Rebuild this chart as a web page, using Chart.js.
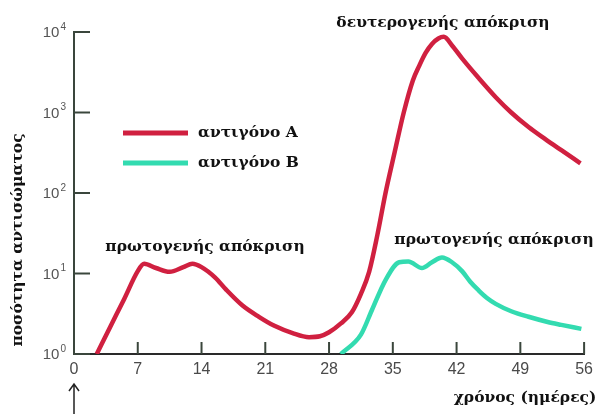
<!DOCTYPE html>
<html>
<head>
<meta charset="utf-8">
<script src="https://cdn.jsdelivr.net/npm/chart.js@4.4.1/dist/chart.umd.min.js"></script>
<style>
  body { margin: 0; background: #fff; }
  canvas { display: block; }
</style>
</head>
<body>
<canvas id="immune" width="599" height="414"></canvas>
<script>
// days on the x axis, tick labels
var xTicks = [0, 7, 14, 21, 28, 35, 42, 49, 56];
var yTicks = [1, 10, 100, 1000, 10000];
var yTickExp = ['0', '1', '2', '3', '4'];

// antigen A (red)
var daysA = [2.5, 4, 5.5, 7, 7.7, 9, 10.5, 12, 13, 14, 15.5, 16.7, 18.5, 20.3, 22, 24, 25.8, 27, 28,
             29.3, 30.5, 31.5, 32.4, 33.3, 34.2, 35.2, 36.2, 37.2, 37.9, 38.6, 39.3, 40, 40.6, 41.5, 42.6,
             44.4, 46.3, 48, 49.9, 51.7, 53.5, 55.6];
var valuesA = [1, 2.2, 4.8, 10.7, 13.2, 11.7, 10.5, 12, 13.2, 12, 8.9, 6.3, 4, 2.9, 2.24, 1.82, 1.62, 1.66, 1.86,
               2.4, 3.3, 5.6, 10.5, 30, 100, 320, 1000, 2500, 3800, 5500, 7100, 8300, 8700, 6800, 4700,
               2700, 1550, 1000, 660, 470, 340, 234];

// antigen B (teal)
var daysB = [29.3, 31.5, 32.7, 34.2, 35.7, 36.7, 38.2, 39.3, 40.4, 41.5, 42.6, 43.5, 44.4, 45.3, 46.3,
             48, 49.9, 52, 53.5, 55.7];
var valuesB = [1, 1.74, 3.5, 8.3, 13.8, 14.1, 11.7, 13.8, 15.8, 13.8, 10.7, 7.9, 6.2, 5, 4.2,
               3.4, 2.9, 2.5, 2.3, 2.05];

var seriesNames = ['αντιγόνο A', 'αντιγόνο B'];
var seriesColors = ['#d02040', '#33dbb0'];

var axisColor = '#3a463c';
var serif = '"DejaVu Serif", "Liberation Serif", serif';
var sans = '"Liberation Sans", "DejaVu Sans", sans-serif';

function toPoints(xs, ys) {
  return xs.map(function (x, i) { return { x: x, y: ys[i] }; });
}

// inward ticks, y labels with exponents, legend, notes, arrow
var extras = {
  id: 'extras',
  afterDraw: function (chart) {
    var ctx = chart.ctx;
    var xs = chart.scales.x, ys = chart.scales.y;
    ctx.save();
    ctx.strokeStyle = axisColor;
    ctx.lineWidth = 2;
    yTicks.forEach(function (v, i) {
      var py = ys.getPixelForValue(v);
      ctx.beginPath();
      ctx.moveTo(xs.left, py);
      ctx.lineTo(xs.left + 16, py);
      ctx.stroke();
      // label 10^n
      ctx.fillStyle = '#555';
      ctx.textBaseline = 'middle';
      ctx.textAlign = 'right';
      ctx.font = '10px ' + sans;
      ctx.fillText(yTickExp[i], xs.left - 8, py - 5);
      var ew = ctx.measureText(yTickExp[i]).width;
      ctx.font = '15px ' + sans;
      ctx.fillText('10', xs.left - 9 - ew, py + 1);
    });
    xTicks.forEach(function (v) {
      if (v === 0) return;
      var px = xs.getPixelForValue(v);
      ctx.beginPath();
      ctx.moveTo(px, ys.bottom);
      ctx.lineTo(px, ys.bottom - 12);
      ctx.stroke();
    });

    // arrow under day 0
    var ax = xs.getPixelForValue(0);
    ctx.strokeStyle = '#222';
    ctx.lineWidth = 1.5;
    ctx.beginPath();
    ctx.moveTo(ax, 414);
    ctx.lineTo(ax, 385);
    ctx.moveTo(ax - 5, 391);
    ctx.lineTo(ax, 384);
    ctx.lineTo(ax + 5, 391);
    ctx.stroke();

    // legend
    ctx.lineWidth = 5;
    ctx.lineCap = 'butt';
    ctx.font = 'bold 15.5px ' + serif;
    ctx.textBaseline = 'middle';
    ctx.textAlign = 'left';
    ctx.fillStyle = '#111';
    seriesNames.forEach(function (name, i) {
      var y = 133 + i * 30;
      ctx.strokeStyle = seriesColors[i];
      ctx.beginPath();
      ctx.moveTo(123, y);
      ctx.lineTo(188, y);
      ctx.stroke();
      ctx.fillText(name, 198, y);
    });

    // notes
    ctx.textAlign = 'center';
    ctx.fillText('δευτερογενής απόκριση', 443, 23);
    ctx.fillText('πρωτογενής απόκριση', 205, 247);
    ctx.fillText('πρωτογενής απόκριση', 494, 240);

    // axis titles
    ctx.fillText('χρόνος (ημέρες)', 525, 398);
    ctx.translate(18, 240);
    ctx.rotate(-Math.PI / 2);
    ctx.fillText('ποσότητα αντισώματος', 0, 0);
    ctx.restore();
  }
};

new Chart(document.getElementById('immune'), {
  type: 'line',
  data: {
    datasets: [
      { label: seriesNames[0], data: toPoints(daysA, valuesA), borderColor: seriesColors[0],
        borderWidth: 4.5, pointRadius: 0, cubicInterpolationMode: 'monotone', fill: false },
      { label: seriesNames[1], data: toPoints(daysB, valuesB), borderColor: seriesColors[1],
        borderWidth: 4.5, pointRadius: 0, cubicInterpolationMode: 'monotone', fill: false }
    ]
  },
  options: {
    responsive: false,
    animation: false,
    devicePixelRatio: 1,
    layout: { padding: { top: 32, right: 13, left: 0, bottom: 0 } },
    plugins: { legend: { display: false }, tooltip: { enabled: false } },
    scales: {
      x: {
        type: 'linear', min: 0, max: 56,
        afterBuildTicks: function (s) { s.ticks = xTicks.map(function (v) { return { value: v }; }); },
        afterFit: function (s) { s.height = 60; },
        grid: { display: true, drawOnChartArea: false, drawTicks: false },
        border: { display: true, color: '#2a2a2a', width: 2 },
        ticks: { color: '#4a4a4a', padding: 6, font: { family: sans, size: 16 }, maxRotation: 0 }
      },
      y: {
        type: 'logarithmic', min: 1, max: 10000,
        afterBuildTicks: function (s) { s.ticks = yTicks.map(function (v) { return { value: v }; }); },
        afterFit: function (s) { s.width = 74; },
        grid: { display: true, drawOnChartArea: false, drawTicks: false },
        border: { display: true, color: axisColor, width: 2 },
        ticks: { display: false }
      }
    }
  },
  plugins: [extras]
});
</script>
</body>
</html>
